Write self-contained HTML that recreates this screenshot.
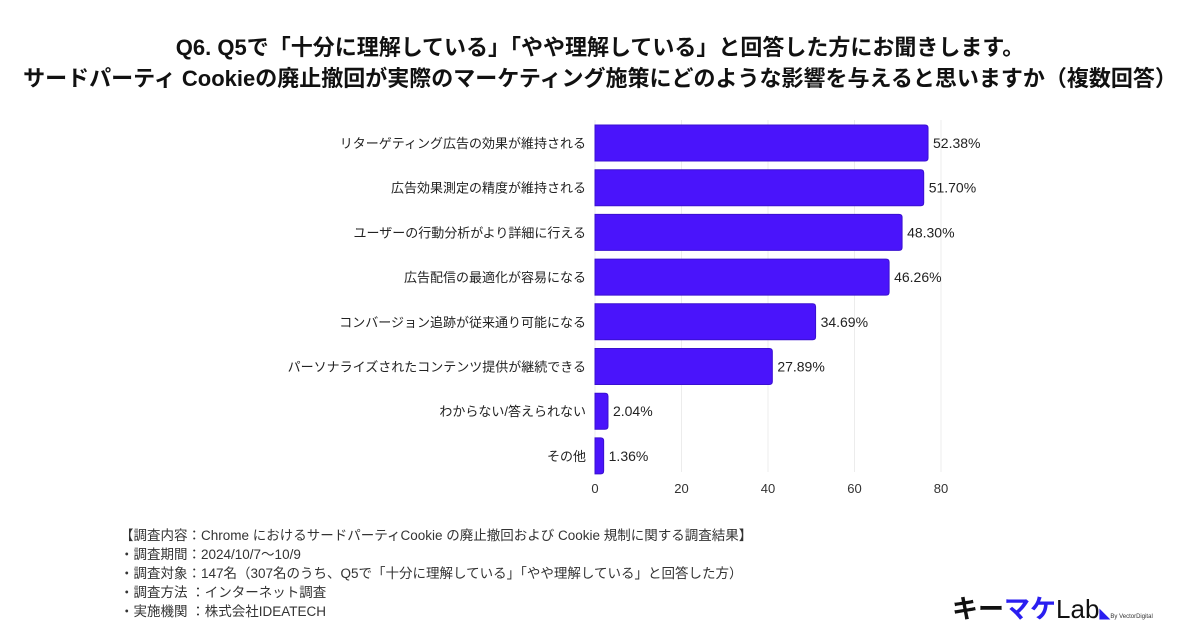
<!DOCTYPE html>
<html><head><meta charset="utf-8">
<style>
body{margin:0;background:#fff;width:1200px;height:630px;overflow:hidden;font-family:"Liberation Sans","Noto Sans CJK JP",sans-serif;color:#222}
#title{position:absolute;left:0;width:1200px;top:32px;text-align:center;font-weight:bold;font-size:22px;line-height:31px;color:#111;white-space:nowrap}
#notes{position:absolute;left:120px;top:526px;font-size:13.5px;line-height:19px;color:#333}
</style></head><body>
<div id="title">Q6. Q5で「十分に理解している」「やや理解している」と回答した方にお聞きします。<br>サードパーティ Cookieの廃止撤回が実際のマーケティング施策にどのような影響を与えると思いますか（複数回答）</div>
<svg id="chart" width="1200" height="630" style="position:absolute;left:0;top:0"></svg>
<div id="notes">【調査内容：Chrome におけるサードパーティCookie の廃止撤回および Cookie 規制に関する調査結果】<br>・調査期間：2024/10/7〜10/9<br>・調査対象：147名（307名のうち、Q5で「十分に理解している」「やや理解している」と回答した方）<br>・調査方法 ：インターネット調査<br>・実施機関 ：株式会社IDEATECH</div>
<div style="position:absolute;left:952px;top:589px;font-size:26px;font-weight:bold;white-space:nowrap"><span style="color:#111">キー</span><span style="color:#2a1ef0">マケ</span><span style="color:#111;font-weight:normal">Lab</span><span style="color:#2a1ef0;font-size:11px">◣</span><span style="font-size:6px;color:#333;font-weight:normal">By VectorDigital</span></div>
<script>
const categories=["リターゲティング広告の効果が維持される","広告効果測定の精度が維持される","ユーザーの行動分析がより詳細に行える","広告配信の最適化が容易になる","コンバージョン追跡が従来通り可能になる","パーソナライズされたコンテンツ提供が継続できる","わからない/答えられない","その他"];
const counts=[77,76,71,68,51,41,3,2];
const percentLabels=["52.38%","51.70%","48.30%","46.26%","34.69%","27.89%","2.04%","1.36%"];
const ticks=[0,20,40,60,80];
const NS="http://www.w3.org/2000/svg";
const svg=document.getElementById('chart');
const x0=595,pxPer=346/80,top0=125,pitch=44.7,bh=36;
const xs=v=>x0+v*pxPer;
const ys=i=>top0+i*pitch;
function mk(t,a){const e=document.createElementNS(NS,t);for(const k in a)e.setAttribute(k,a[k]);svg.appendChild(e);return e;}
ticks.forEach((t,i)=>{
 const g=mk('line',{x1:xs(t),x2:xs(t),y1:120,y2:472,stroke:'#ececec','stroke-width':1});
 
 
 const l=mk('text',{x:xs(t),y:493,'text-anchor':'middle','font-size':13,fill:'#333'});
 l.textContent=t;
 
 
});
categories.forEach((c,i)=>{
 const y=ys(i),w=xs(counts[i])-x0;
 const b=mk('path',{d:`M${x0},${y}H${x0+w-3}Q${x0+w},${y} ${x0+w},${y+3}V${y+bh-3}Q${x0+w},${y+bh} ${x0+w-3},${y+bh}H${x0}Z`,fill:'#4a14fb',stroke:'#3a10d0','stroke-width':1});
 
 
 const lab=mk('text',{x:586,y:y+bh/2+5,'text-anchor':'end','font-size':13,fill:'#222'});
 lab.textContent=c;
 
 
 const v=mk('text',{x:x0+w+5,y:y+bh/2+5,'font-size':14,fill:'#222'});
 v.textContent=percentLabels[i];
 
 
});
</script>
</body></html>
